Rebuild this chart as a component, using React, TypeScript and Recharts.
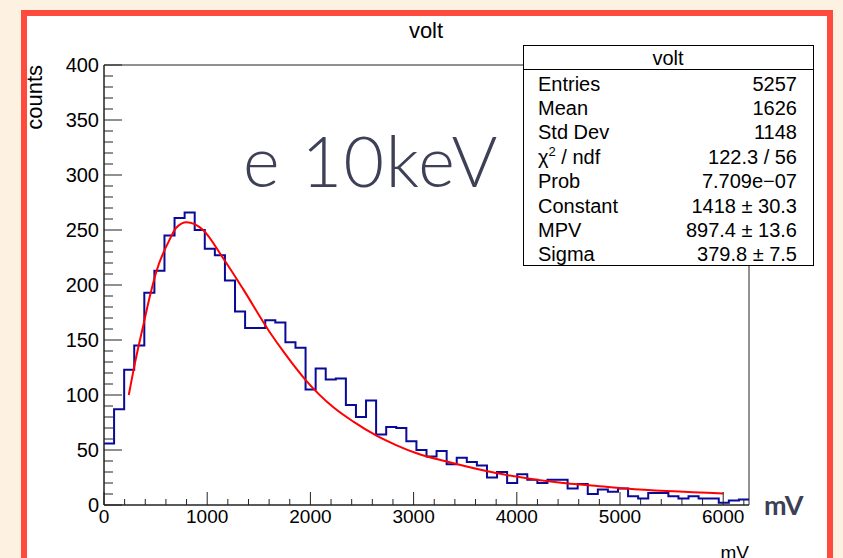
import { ComposedChart, Line, XAxis, YAxis, ReferenceArea } from 'recharts';

// histogram "volt": 64 bins from 0 to 6250 mV
const HIST_MIN = 0;
const HIST_MAX = 6250;
const counts = [
  56, 87, 123, 145, 193, 213, 245, 261, 266, 250,
  233, 227, 204, 176, 161, 161, 168, 166, 148, 143,
  105, 124, 114, 115, 91, 80, 95, 64, 71, 70,
  58, 50, 44, 49, 37, 43, 39, 36, 25, 30,
  20, 28, 23, 20, 23, 23, 15, 19, 10, 14,
  12, 15, 8, 6, 11, 11, 8, 6, 8, 6,
  6, 2, 4, 5,
];

// landau fit curve
const fitX = [240, 300, 380, 445, 510, 640, 700, 800, 960, 1150, 1350, 1600, 1750, 1950, 2220, 2420, 2640, 2830, 3030, 3320, 3800, 4450, 4700, 5060, 6000];
const fitY = [100, 129, 163, 190, 213, 242, 252, 257, 250, 225, 196, 158, 138, 114, 89, 75.5, 63, 54.5, 47, 39.5, 29, 20, 18, 15, 10.5];

const xLabels = [0, 1000, 2000, 3000, 4000, 5000, 6000];
const yLabels = [0, 50, 100, 150, 200, 250, 300, 350, 400];

const statTitle = 'volt';
const statRows = [
  ['Entries', '5257'],
  ['Mean', '1626'],
  ['Std Dev', '1148'],
  ['chi2', '122.3 / 56'],
  ['Prob', '7.709e\u221207'],
  ['Constant', '1418 \u00b1 30.3'],
  ['MPV', '897.4 \u00b1 13.6'],
  ['Sigma', '379.8 \u00b1 7.5'],
];

const xTicks = Array.from({ length: 32 }, (_, i) => i * 200);
const yTicks = Array.from({ length: 41 }, (_, i) => i * 10);

const binWidth = (HIST_MAX - HIST_MIN) / counts.length;
const histData = counts.map((c, i) => ({ x: HIST_MIN + i * binWidth, y: c }));
histData.push({ x: HIST_MAX, y: counts[counts.length - 1] });
const fitData = fitX.map((x, i) => ({ x, y: fitY[i] }));

const FONT = '"Liberation Sans", Arial, Helvetica, sans-serif';
const AXIS = '#222';

const XTick = ({ x, y, payload }: any) => {
  const major = xLabels.includes(payload.value);
  return (
    <g>
      <line x1={x} x2={x} y1={y} y2={y - (major ? 13 : 6)} stroke={AXIS} strokeWidth={1} />
      {major && (
        <text x={x} y={y + 18} textAnchor="middle" fontSize={19} fontFamily={FONT} fill="#000">
          {payload.value}
        </text>
      )}
    </g>
  );
};

const YTick = ({ x, y, payload }: any) => {
  const major = yLabels.includes(payload.value);
  return (
    <g>
      <line x1={x} x2={x + (major ? 18 : 9)} y1={y} y2={y} stroke={AXIS} strokeWidth={1} />
      {major && (
        <text x={x - 5} y={y} dy="0.36em" textAnchor="end" fontSize={20} fontFamily={FONT} fill="#000">
          {payload.value}
        </text>
      )}
    </g>
  );
};

export default function App() {
  return (
    <div style={{ position: 'fixed', left: 0, top: 0, width: 843, height: 558, overflow: 'hidden', background: '#fdf2e1' }}>
      <div style={{ position: 'absolute', left: 24, top: 13, width: 806, height: 548, background: '#fff' }} />
      <div style={{ position: 'absolute', left: 0, top: 0 }}>
        <ComposedChart width={843} height={558} margin={{ top: 65, right: 94, left: 44, bottom: 23 }}>
          <XAxis
            dataKey="x"
            type="number"
            domain={[HIST_MIN, HIST_MAX]}
            ticks={xTicks}
            interval={0}
            tick={<XTick />}
            tickSize={0}
            tickMargin={0}
            tickLine={false}
            axisLine={{ stroke: AXIS }}
            height={30}
            allowDataOverflow
          />
          <YAxis
            type="number"
            domain={[0, 400]}
            ticks={yTicks}
            interval={0}
            tick={<YTick />}
            tickSize={0}
            tickMargin={0}
            tickLine={false}
            axisLine={{ stroke: AXIS }}
            width={60}
            allowDataOverflow
          />
          <ReferenceArea x1={HIST_MIN} x2={HIST_MAX} y1={0} y2={400} fill="none" stroke={AXIS} strokeWidth={1} />
          <Line
            data={histData}
            dataKey="y"
            type="stepAfter"
            stroke="#0a0a99"
            strokeWidth={2}
            dot={false}
            isAnimationActive={false}
          />
          <Line
            data={fitData}
            dataKey="y"
            type="monotone"
            stroke="#ff0000"
            strokeWidth={2}
            dot={false}
            isAnimationActive={false}
          />
        </ComposedChart>
      </div>
      <svg width={843} height={558} style={{ position: 'absolute', left: 0, top: 0, pointerEvents: 'none' }}>
        <text x={426} y={38} textAnchor="middle" fontSize={22} fontFamily={FONT} fill="#000">volt</text>
        <text x={42} y={65} transform="rotate(-90 42 65)" textAnchor="end" fontSize={22} fontFamily={FONT} fill="#000">counts</text>
        <text x={749} y={559} textAnchor="end" fontSize={19} fontFamily={FONT} fill="#000">mV</text>
        <text x={764} y={515} fontSize={27} fontWeight={700} fontFamily="Lato, sans-serif" fill="#3c3f56">mV</text>
        <text x={243} y={187} fontSize={70} fontWeight={300} letterSpacing={1.5} fontFamily="Lato, sans-serif" fill="#3d4056">e 10keV</text>

        <rect x={523.5} y={45.5} width={290} height={220} fill="#fff" stroke="#000" strokeWidth={1} />
        <line x1={523.5} x2={813.5} y1={69.5} y2={69.5} stroke="#000" strokeWidth={1} />
        <text x={668} y={65} textAnchor="middle" fontSize={20} fontFamily={FONT} fill="#000">{statTitle}</text>
        {statRows.map(([name, value], i) => (
          <g key={name}>
            <text x={538} y={90.5 + i * 24.4} fontSize={20} fontFamily={FONT} fill="#000">
              {name === 'chi2' ? (
                <>
                  <tspan>{'\u03c7'}</tspan>
                  <tspan dy={-8} fontSize={13}>2</tspan>
                  <tspan dy={8}>{' / ndf'}</tspan>
                </>
              ) : name}
            </text>
            <text x={797} y={90.5 + i * 24.4} textAnchor="end" fontSize={20} fontFamily={FONT} fill="#000">{value}</text>
          </g>
        ))}

        <rect x={24} y={13} width={806} height={549} fill="none" stroke="#ff4b3e" strokeWidth={6} />
      </svg>
    </div>
  );
}
